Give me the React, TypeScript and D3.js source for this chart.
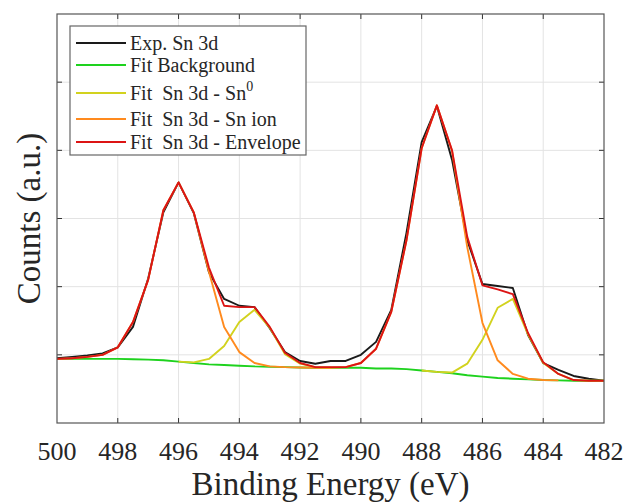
import React from 'react';
import * as d3 from 'd3';

const energies = [500, 499.5, 499, 498.5, 498, 497.5, 497, 496.5, 496, 495.5, 495, 494.5, 494, 493.5, 493, 492.5, 492, 491.5, 491, 490.5, 490, 489.5, 489, 488.5, 488, 487.5, 487, 486.5, 486, 485.5, 485, 484.5, 484, 483.5, 483, 482.5, 482];

const expSn3d = [0.95, 0.97, 0.99, 1.02, 1.11, 1.41, 2.12, 3.09, 3.53, 3.08, 2.21, 1.82, 1.72, 1.70, 1.39, 1.04, 0.91, 0.87, 0.91, 0.91, 1.00, 1.19, 1.66, 2.79, 4.12, 4.65, 3.86, 2.68, 2.04, 2.01, 1.98, 1.29, 0.88, 0.78, 0.69, 0.65, 0.62];

const fitBackground = [0.94, 0.94, 0.94, 0.94, 0.94, 0.935, 0.93, 0.92, 0.90, 0.88, 0.86, 0.85, 0.84, 0.83, 0.825, 0.82, 0.815, 0.81, 0.81, 0.81, 0.81, 0.80, 0.80, 0.79, 0.77, 0.75, 0.73, 0.70, 0.68, 0.66, 0.65, 0.64, 0.63, 0.625, 0.62, 0.62, 0.62];

const fitSn0: (number | null)[] = [null, null, null, null, null, null, null, null, 0.90, 0.89, 0.94, 1.13, 1.48, 1.66, 1.40, 1.01, 0.87, 0.82, 0.81, null, null, null, null, null, 0.77, 0.75, 0.74, 0.87, 1.22, 1.69, 1.82, 1.30, 0.88, 0.72, 0.63, 0.62, 0.62];

const fitSnIon: (number | null)[] = [0.94, 0.95, 0.97, 1.0, 1.11, 1.48, 2.10, 3.12, 3.53, 3.09, 2.22, 1.41, 1.04, 0.88, 0.83, 0.82, 0.815, 0.81, 0.81, 0.82, 0.88, 1.09, 1.63, 2.68, 4.03, 4.66, 3.99, 2.58, 1.47, 0.92, 0.72, 0.65, 0.63, 0.625, null, null, null];

const fitEnvelope = [0.94, 0.95, 0.97, 1.0, 1.11, 1.48, 2.10, 3.12, 3.53, 3.09, 2.28, 1.72, 1.70, 1.70, 1.41, 1.03, 0.88, 0.82, 0.82, 0.82, 0.88, 1.09, 1.63, 2.68, 4.03, 4.66, 4.00, 2.73, 2.02, 1.96, 1.89, 1.32, 0.89, 0.72, 0.63, 0.62, 0.62];

const xTicks = [500, 498, 496, 494, 492, 490, 488, 486, 484, 482];
const yTicks = [1, 2, 3, 4, 5];

const seriesNames = ['Exp. Sn 3d', 'Fit Background', 'Fit  Sn 3d - Sn', 'Fit  Sn 3d - Sn ion', 'Fit  Sn 3d - Envelope'];
const seriesColors = ['#1a1a1a', '#1ed21e', '#d2d21e', '#ff8a1e', '#dc1414'];

export default function App() {
  const W = 626, H = 502;
  const L = 57, R = 604, T = 14, B = 423;
  const x = d3.scaleLinear().domain([500, 482]).range([L, R]);
  const y = d3.scaleLinear().domain([0, 6]).range([B, T]);
  const serif = { fontFamily: 'Liberation Serif, DejaVu Serif, serif' };
  const txt = '#262626';

  const allSeries = [expSn3d, fitBackground, fitSn0, fitSnIon, fitEnvelope];
  const line = d3.line<[number, number | null]>()
    .defined(d => d[1] !== null)
    .x(d => x(d[0]))
    .y(d => y(d[1] as number));

  const legendBase = [50, 72, 100, 126, 149];

  return (
    <svg width={W} height={H} style={{ position: 'absolute', left: 0, top: 0, background: '#fff' }}>
      <rect x={0} y={0} width={W} height={H} fill="#fff" />
      {xTicks.slice(1, -1).map(t => (
        <line key={'gx' + t} x1={x(t)} x2={x(t)} y1={T} y2={B} stroke="#e3e3e3" strokeWidth={1} />
      ))}
      {yTicks.map(t => (
        <line key={'gy' + t} x1={L} x2={R} y1={y(t)} y2={y(t)} stroke="#e3e3e3" strokeWidth={1} />
      ))}
      {allSeries.map((s, i) => (
        <path key={'s' + i}
          d={line(energies.map((e, k) => [e, s[k]] as [number, number | null])) || ''}
          fill="none" stroke={seriesColors[i]} strokeWidth={1.9} strokeLinejoin="round" />
      ))}
      {xTicks.slice(1, -1).map(t => (
        <g key={'tx' + t}>
          <line x1={x(t)} x2={x(t)} y1={B} y2={B - 5} stroke="#333" />
          <line x1={x(t)} x2={x(t)} y1={T} y2={T + 5} stroke="#333" />
        </g>
      ))}
      {yTicks.map(t => (
        <g key={'ty' + t}>
          <line x1={L} x2={L + 5} y1={y(t)} y2={y(t)} stroke="#333" />
          <line x1={R} x2={R - 5} y1={y(t)} y2={y(t)} stroke="#333" />
        </g>
      ))}
      <rect x={L} y={T} width={R - L} height={B - T} fill="none" stroke="#555" strokeWidth={1.2} />
      {xTicks.map(t => (
        <text key={'lx' + t} x={x(t)} y={460} textAnchor="middle" style={serif} fontSize={26} fill={txt}>{t}</text>
      ))}
      <text x={(L + R) / 2} y={495} textAnchor="middle" style={serif} fontSize={33} fill={txt}>Binding Energy (eV)</text>
      <text transform={`translate(40,${(T + B) / 2}) rotate(-90)`} textAnchor="middle" style={serif} fontSize={33} fill={txt}>Counts (a.u.)</text>
      <rect x={70} y={26} width={236} height={129} fill="#fff" stroke="#666" strokeWidth={1.2} />
      {seriesNames.map((n, i) => (
        <g key={'lg' + i}>
          <line x1={76} x2={126} y1={legendBase[i] - 7} y2={legendBase[i] - 7} stroke={seriesColors[i]} strokeWidth={2} />
          <text x={130} y={legendBase[i]} style={{ ...serif, whiteSpace: 'pre' }} fontSize={20} fill={txt}>
            {n}
            {i === 2 ? <tspan dy={-9} fontSize={14}>0</tspan> : null}
          </text>
        </g>
      ))}
    </svg>
  );
}
